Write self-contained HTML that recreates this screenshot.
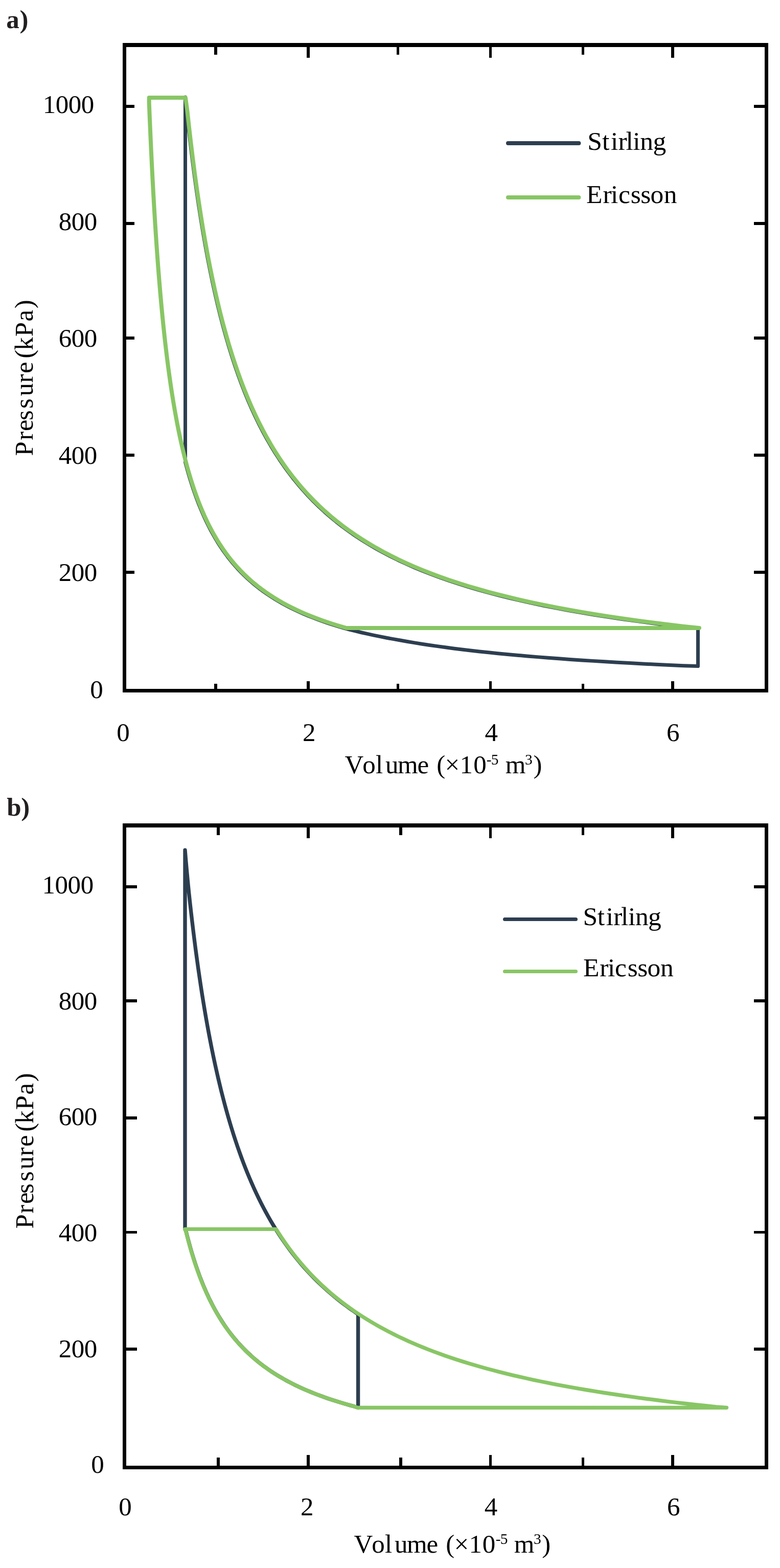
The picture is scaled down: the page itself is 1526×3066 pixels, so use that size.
<!DOCTYPE html>
<html lang="en">
<head>
<meta charset="utf-8">
<title>P–V diagrams: Stirling and Ericsson cycles</title>
<style>
html,body{margin:0;padding:0;background:#fff;}
svg{display:block;}
text{font-family:"Liberation Serif", "Times New Roman", Times, serif;white-space:pre;font-kerning:none;font-variant-ligatures:none;}
</style>
</head>
<body>
<svg width="1526" height="3066" viewBox="0 0 1526 3066">
<rect width="1526" height="3066" fill="#fff"/>
<g>
<path d="M362.50 190.00 L362.50 903.95 L365.52 915.12 L368.61 926.01 L371.78 936.64 L375.04 946.99 L378.37 957.09 L381.80 966.94 L385.31 976.54 L388.91 985.89 L392.60 995.02 L396.39 1003.92 L400.28 1012.59 L404.26 1021.05 L408.35 1029.30 L412.54 1037.34 L416.84 1045.18 L421.25 1052.82 L425.77 1060.27 L430.41 1067.54 L435.17 1074.62 L440.05 1081.53 L445.05 1088.26 L450.18 1094.83 L455.45 1101.23 L460.85 1107.48 L466.39 1113.56 L472.07 1119.50 L477.89 1125.28 L483.87 1130.92 L489.99 1136.42 L496.28 1141.78 L502.72 1147.01 L509.34 1152.11 L516.12 1157.08 L523.07 1161.93 L530.20 1166.65 L537.52 1171.26 L545.02 1175.75 L552.72 1180.13 L560.61 1184.40 L568.71 1188.56 L577.01 1192.62 L585.53 1196.58 L594.26 1200.44 L603.22 1204.20 L612.41 1207.87 L621.83 1211.45 L631.50 1214.93 L641.41 1218.33 L651.57 1221.65 L662.00 1224.88 L672.70 1228.03 L683.72 1231.06 L695.08 1233.93 L706.74 1236.73 L718.70 1239.46 L730.97 1242.11 L743.55 1244.68 L756.45 1247.19 L769.68 1249.62 L783.22 1252.03 L797.00 1254.47 L811.13 1256.86 L825.62 1259.18 L840.48 1261.45 L855.73 1263.66 L871.36 1265.82 L887.40 1267.92 L903.84 1269.97 L920.71 1271.97 L938.01 1273.92 L955.76 1275.81 L973.95 1277.67 L992.62 1279.47 L1011.76 1281.23 L1031.40 1282.95 L1051.54 1284.62 L1072.19 1286.25 L1093.38 1287.85 L1115.11 1289.40 L1137.39 1290.91 L1160.25 1292.38 L1183.69 1293.82 L1207.73 1295.22 L1232.39 1296.59 L1257.68 1297.92 L1283.62 1299.22 L1310.23 1300.49 L1337.51 1301.72 L1365.50 1302.60 L1365.50 1227.94 L1334.00 1225.58 L1303.38 1221.95 L1273.63 1218.22 L1244.71 1214.38 L1216.61 1210.43 L1189.29 1206.37 L1162.74 1202.19 L1136.94 1197.88 L1111.87 1193.46 L1087.49 1188.90 L1063.81 1184.21 L1040.79 1179.39 L1018.41 1174.43 L996.67 1169.32 L975.54 1164.07 L955.00 1158.67 L935.04 1153.10 L915.64 1147.38 L896.78 1141.49 L878.45 1135.44 L860.64 1129.20 L843.33 1122.79 L826.51 1116.19 L810.16 1109.40 L794.27 1102.42 L778.83 1095.23 L763.82 1087.83 L749.23 1080.22 L735.05 1072.39 L721.27 1064.33 L707.88 1056.05 L694.87 1047.52 L682.22 1038.74 L669.92 1029.71 L657.97 1020.42 L646.36 1010.86 L635.07 1001.02 L624.11 990.90 L613.44 980.49 L603.08 969.77 L593.01 958.75 L583.23 947.41 L573.72 935.74 L564.47 923.73 L555.49 911.37 L546.76 898.66 L538.27 885.57 L530.02 872.12 L522.01 858.27 L514.21 844.02 L506.64 829.35 L499.28 814.27 L492.13 798.75 L485.18 782.78 L478.43 766.34 L471.86 749.43 L465.48 732.04 L459.28 714.14 L453.25 695.72 L447.39 676.77 L441.70 657.27 L436.17 637.21 L430.79 616.56 L425.56 595.32 L420.48 573.47 L415.54 550.98 L410.75 527.85 L406.08 504.04 L401.55 479.54 L397.15 454.34 L392.87 428.41 L388.70 401.73 L384.66 374.27 L380.73 346.03 L376.91 316.96 L373.20 287.06 L369.59 256.29 L366.09 224.63 L362.50 190.00Z" fill="none" stroke="#2d3e50" stroke-width="7" stroke-linejoin="round" stroke-linecap="round"/>
<path d="M291.70 191.00 L362.90 191.00 L366.30 215.73 L369.79 247.73 L373.39 278.82 L377.09 309.04 L380.90 338.41 L384.82 366.94 L388.85 394.67 L393.00 421.62 L397.27 447.81 L401.67 473.26 L406.19 497.99 L410.84 522.03 L415.63 545.38 L420.56 568.08 L425.63 590.13 L430.84 611.57 L436.21 632.40 L441.74 652.64 L447.42 672.31 L453.27 691.43 L459.29 710.00 L465.49 728.06 L471.86 745.60 L478.42 762.65 L485.17 779.22 L492.12 795.32 L499.27 810.96 L506.62 826.17 L514.19 840.94 L521.98 855.30 L530.00 869.25 L538.24 882.81 L546.73 895.99 L555.47 908.80 L564.45 921.24 L573.70 933.34 L583.22 945.09 L593.01 956.51 L603.09 967.61 L613.46 978.39 L624.13 988.87 L635.11 999.06 L646.41 1008.96 L658.03 1018.57 L670.00 1027.92 L682.31 1037.01 L694.98 1045.83 L708.02 1054.41 L721.43 1062.75 L735.24 1070.85 L749.44 1078.72 L764.06 1086.37 L779.10 1093.81 L794.58 1101.03 L810.51 1108.05 L826.90 1114.88 L843.77 1121.51 L861.13 1127.95 L878.99 1134.21 L897.37 1140.30 L916.28 1146.21 L935.74 1151.96 L955.77 1157.54 L976.37 1162.97 L997.58 1168.24 L1019.40 1173.37 L1041.86 1178.35 L1064.97 1183.19 L1088.74 1187.89 L1113.21 1192.46 L1138.39 1196.90 L1164.30 1201.22 L1190.96 1205.41 L1218.40 1209.49 L1246.63 1213.45 L1275.68 1217.30 L1305.58 1221.04 L1336.34 1224.68 L1368.00 1227.90 L676.97 1227.90 L664.90 1224.39 L653.18 1220.78 L641.78 1217.06 L630.71 1213.23 L619.94 1209.30 L609.47 1205.25 L599.30 1201.09 L589.41 1196.81 L579.80 1192.40 L570.46 1187.86 L561.38 1183.20 L552.55 1178.40 L543.97 1173.46 L535.63 1168.39 L527.52 1163.16 L519.64 1157.79 L511.98 1152.26 L504.54 1146.57 L497.30 1140.71 L490.27 1134.69 L483.43 1128.50 L476.78 1122.12 L470.32 1115.57 L464.04 1108.82 L457.94 1101.88 L452.01 1094.74 L446.24 1087.40 L440.63 1079.84 L435.19 1072.07 L429.89 1064.07 L424.74 1055.84 L419.74 1047.38 L414.87 1038.67 L410.14 1029.71 L405.55 1020.49 L401.08 1011.01 L396.74 1001.25 L392.52 991.22 L388.42 980.89 L384.43 970.27 L380.55 959.34 L376.79 948.10 L373.12 936.53 L369.56 924.63 L366.10 912.39 L362.74 899.80 L359.47 886.84 L356.29 873.51 L353.20 859.80 L350.20 845.69 L347.28 831.18 L344.45 816.24 L341.69 800.88 L339.01 785.08 L336.40 768.82 L333.87 752.09 L331.41 734.88 L329.02 717.18 L326.69 698.97 L324.43 680.23 L322.23 660.95 L320.10 641.12 L318.02 620.72 L316.00 599.73 L314.04 578.13 L312.14 555.92 L310.28 533.06 L308.48 509.55 L306.73 485.36 L305.03 460.47 L303.37 434.87 L301.77 408.53 L300.20 381.43 L298.68 353.55 L297.21 324.87 L295.77 295.36 L294.37 265.01 L293.02 233.78 L291.70 201.65Z" fill="none" stroke="#88c665" stroke-width="8" stroke-linejoin="round" stroke-linecap="round"/>
<path fill="#000" fill-rule="evenodd" d="M240 84H1503V1354H240Z M247 92V1347H1496V92Z"/>
<rect x="246" y="205" width="17" height="6" fill="#000"/>
<rect x="1475" y="205" width="22" height="6" fill="#000"/>
<rect x="246" y="434" width="17" height="6" fill="#000"/>
<rect x="1475" y="434" width="22" height="6" fill="#000"/>
<rect x="246" y="658" width="17" height="6" fill="#000"/>
<rect x="1475" y="658" width="22" height="6" fill="#000"/>
<rect x="246" y="887" width="17" height="6" fill="#000"/>
<rect x="1475" y="887" width="22" height="6" fill="#000"/>
<rect x="246" y="1116" width="17" height="6" fill="#000"/>
<rect x="1475" y="1116" width="22" height="6" fill="#000"/>
<rect x="419" y="91" width="6" height="16" fill="#000"/>
<rect x="419" y="1337" width="6" height="11" fill="#000"/>
<rect x="600" y="91" width="6" height="22" fill="#000"/>
<rect x="600" y="1332" width="6" height="16" fill="#000"/>
<rect x="776" y="91" width="5" height="16" fill="#000"/>
<rect x="776" y="1337" width="5" height="11" fill="#000"/>
<rect x="957" y="91" width="5" height="22" fill="#000"/>
<rect x="957" y="1332" width="5" height="16" fill="#000"/>
<rect x="1138" y="91" width="5" height="16" fill="#000"/>
<rect x="1138" y="1337" width="5" height="11" fill="#000"/>
<rect x="1313" y="91" width="6" height="22" fill="#000"/>
<rect x="1313" y="1332" width="6" height="16" fill="#000"/>
<path d="M994 280H1132.4" stroke="#2d3e50" stroke-width="8" stroke-linecap="round"/>
<path d="M994 386H1132.4" stroke="#88c665" stroke-width="8" stroke-linecap="round"/>
<text y="55.2" font-size="51" font-weight="bold" fill="#231f20"><tspan x="12.36" letter-spacing="0.6">a)</tspan></text>
<text y="220.8" font-size="51"><tspan x="83.69" letter-spacing="-0.45">1000</tspan></text>
<text y="449.8" font-size="51"><tspan x="114.64" letter-spacing="-0.45">800</tspan></text>
<text y="677.5" font-size="51"><tspan x="114.64" letter-spacing="-0.45">600</tspan></text>
<text y="906.9" font-size="51"><tspan x="114.64" letter-spacing="-0.45">400</tspan></text>
<text y="1135.8" font-size="51"><tspan x="114.64" letter-spacing="-0.45">200</tspan></text>
<text y="1364.6" font-size="51"><tspan x="176.35">0</tspan></text>
<text y="1449.3" font-size="51"><tspan x="228.2">0</tspan></text>
<text y="1449.3" font-size="51"><tspan x="592.09">2</tspan></text>
<text y="1449.3" font-size="51"><tspan x="948.5">4</tspan></text>
<text y="1449.3" font-size="51"><tspan x="1303.91">6</tspan></text>
<text y="1512.3" font-size="51"><tspan x="674.48 709.15 734.92 754.05 778.03 816.57">Volume</tspan><tspan x="841.56 854.31 870.59 899.44 926.35"> (×10</tspan><tspan x="951.67 960.74" dy="-17.5" font-size="29.5">-5</tspan><tspan x="976.08 988.83" dy="17.5"> m</tspan><tspan x="1027.1" dy="-17.5" font-size="29.5">3</tspan><tspan x="1043.41" dy="17.5">)</tspan></text>
<text y="891.05" font-size="51" transform="rotate(-90 64.1 891.05)"><tspan x="63.75 94.37 112.22 133.1 156.2 180.7 206.72 225.12 241.71 254.46 270.31 296.85 326.68 351.96">Pressure (kPa)</tspan></text>
<text y="293" font-size="51.5"><tspan x="1149.25 1177.95 1194.9 1209.44 1224.45 1238.2 1252.22 1277.41">Stirling</tspan></text>
<text y="396.7" font-size="51.5"><tspan x="1146.91 1179.44 1195.1 1209.98 1233.85 1253.25 1272.53 1298.82">Ericsson</tspan></text>
</g>
<g>
<path d="M362.00 1662.30 L363.74 1683.52 L365.62 1704.37 L367.54 1724.86 L369.52 1744.97 L371.66 1764.64 L373.83 1783.96 L376.05 1802.94 L378.30 1821.59 L380.59 1839.91 L382.93 1857.91 L385.31 1875.60 L387.72 1892.98 L390.19 1910.05 L392.69 1926.82 L395.24 1943.31 L397.84 1959.50 L400.48 1975.41 L403.17 1991.04 L405.90 2006.39 L408.69 2021.48 L411.52 2036.31 L414.41 2050.87 L417.35 2065.18 L420.33 2079.24 L423.38 2093.05 L426.47 2106.63 L429.63 2119.96 L432.83 2133.06 L436.10 2145.93 L439.42 2158.58 L442.80 2171.00 L446.25 2183.21 L449.75 2195.20 L453.32 2206.99 L456.95 2218.56 L460.64 2229.94 L464.40 2241.11 L468.23 2252.09 L472.13 2262.88 L476.09 2273.48 L480.13 2283.90 L484.23 2294.13 L488.42 2304.18 L492.67 2314.06 L497.00 2323.76 L501.41 2333.29 L505.90 2342.66 L510.46 2351.86 L515.11 2360.90 L519.84 2369.79 L524.66 2378.51 L529.56 2387.09 L534.55 2395.51 L539.62 2403.79 L544.79 2411.93 L550.05 2419.92 L555.40 2427.77 L560.85 2435.48 L566.40 2443.06 L572.04 2450.50 L577.79 2457.82 L583.64 2465.01 L589.59 2472.07 L595.64 2479.00 L601.81 2485.82 L608.09 2492.52 L614.47 2499.10 L620.97 2505.56 L627.59 2511.91 L634.33 2518.15 L641.18 2524.29 L648.16 2530.31 L655.26 2536.23 L662.48 2542.04 L669.84 2547.76 L677.33 2553.37 L684.95 2558.88 L692.71 2564.30 L700.60 2570.01 L700.60 2752.50 L692.72 2749.94 L684.98 2747.83 L677.38 2745.69 L669.90 2743.51 L662.56 2741.29 L655.35 2739.03 L648.26 2736.73 L641.30 2734.39 L634.46 2732.01 L627.74 2729.58 L621.13 2727.11 L614.65 2724.60 L608.27 2722.04 L602.01 2719.44 L595.85 2716.79 L589.81 2714.10 L583.87 2711.35 L578.03 2708.56 L572.30 2705.72 L566.67 2702.82 L561.13 2699.88 L555.69 2696.88 L550.35 2693.83 L545.10 2690.73 L539.94 2687.57 L534.88 2684.35 L529.90 2681.08 L525.01 2677.74 L520.20 2674.35 L515.48 2670.90 L510.84 2667.39 L506.28 2663.81 L501.81 2660.17 L497.41 2656.47 L493.08 2652.70 L488.84 2648.86 L484.66 2644.95 L480.56 2640.98 L476.54 2636.93 L472.58 2632.81 L468.69 2628.62 L464.87 2624.35 L461.12 2620.01 L457.43 2615.59 L453.81 2611.09 L450.25 2606.51 L446.75 2601.85 L443.31 2597.11 L439.94 2592.28 L436.62 2587.37 L433.36 2582.37 L430.16 2577.28 L427.01 2572.10 L423.92 2566.82 L420.89 2561.45 L417.90 2555.99 L414.97 2550.43 L412.09 2544.77 L409.26 2539.01 L406.48 2533.15 L403.75 2527.18 L401.07 2521.11 L398.43 2514.93 L395.84 2508.64 L393.29 2502.23 L390.79 2495.71 L388.34 2489.08 L385.92 2482.33 L383.55 2475.46 L381.22 2468.46 L378.93 2461.34 L376.68 2454.10 L374.47 2446.72 L372.30 2439.22 L370.17 2431.57 L368.07 2423.80 L366.01 2415.88 L363.99 2407.83 L362.00 2403.40Z" fill="none" stroke="#2d3e50" stroke-width="7.4" stroke-linejoin="round" stroke-linecap="round"/>
<path d="M540.21 2403.40 L545.38 2411.54 L550.64 2419.53 L556.00 2427.38 L561.45 2435.10 L567.00 2442.68 L572.65 2450.13 L578.40 2457.45 L584.25 2464.64 L590.21 2471.70 L596.27 2478.64 L602.44 2485.46 L608.72 2492.16 L615.11 2498.74 L621.62 2505.20 L628.24 2511.56 L634.98 2517.80 L641.84 2523.93 L648.82 2529.96 L655.93 2535.88 L663.16 2541.69 L670.53 2547.41 L678.02 2553.02 L685.65 2558.54 L693.41 2563.96 L701.31 2569.28 L709.35 2574.51 L717.54 2579.65 L725.87 2584.70 L734.35 2589.66 L742.98 2594.54 L751.77 2599.33 L760.71 2604.03 L769.81 2608.65 L779.07 2613.20 L788.50 2617.66 L798.10 2622.04 L807.87 2626.35 L817.81 2630.58 L827.93 2634.74 L838.23 2638.82 L848.71 2642.84 L859.38 2646.78 L870.24 2650.65 L881.29 2654.46 L892.54 2658.20 L903.99 2661.87 L915.65 2665.48 L927.51 2669.03 L939.58 2672.51 L951.87 2675.94 L964.38 2679.30 L977.11 2682.60 L990.07 2685.85 L1003.26 2689.04 L1016.69 2692.17 L1030.35 2695.25 L1044.26 2698.28 L1058.41 2701.25 L1072.82 2704.17 L1087.48 2707.04 L1102.41 2709.86 L1117.60 2712.63 L1133.06 2715.35 L1148.80 2718.02 L1164.82 2720.65 L1181.12 2723.23 L1197.72 2725.76 L1214.61 2728.26 L1231.80 2730.70 L1249.30 2733.11 L1267.11 2735.47 L1285.23 2737.79 L1303.68 2740.07 L1322.46 2742.31 L1341.58 2744.51 L1361.03 2746.67 L1380.83 2748.80 L1400.99 2750.89 L1421.50 2752.50 L699.50 2752.50 L692.72 2749.87 L684.97 2747.76 L677.36 2745.62 L669.89 2743.44 L662.54 2741.23 L655.33 2738.97 L648.23 2736.67 L641.27 2734.33 L634.42 2731.95 L627.70 2729.53 L621.09 2727.06 L614.60 2724.55 L608.22 2722.00 L601.96 2719.40 L595.80 2716.75 L589.75 2714.06 L583.81 2711.32 L577.97 2708.52 L572.23 2705.68 L566.60 2702.79 L561.06 2699.85 L555.62 2696.86 L550.27 2693.81 L545.02 2690.71 L539.86 2687.55 L534.79 2684.34 L529.81 2681.07 L524.91 2677.74 L520.10 2674.35 L515.38 2670.90 L510.74 2667.39 L506.18 2663.82 L501.70 2660.18 L497.29 2656.48 L492.97 2652.71 L488.72 2648.88 L484.54 2644.97 L480.44 2641.00 L476.41 2636.96 L472.45 2632.85 L468.56 2628.66 L464.74 2624.40 L460.98 2620.06 L457.29 2615.64 L453.67 2611.15 L450.11 2606.57 L446.61 2601.92 L443.17 2597.18 L439.79 2592.36 L436.47 2587.45 L433.21 2582.45 L430.01 2577.36 L426.86 2572.19 L423.76 2566.92 L420.73 2561.56 L417.74 2556.10 L414.81 2550.55 L411.93 2544.89 L409.09 2539.14 L406.31 2533.28 L403.58 2527.32 L400.89 2521.25 L398.25 2515.08 L395.66 2508.79 L393.12 2502.40 L390.61 2495.88 L388.15 2489.26 L385.74 2482.51 L383.37 2475.65 L381.03 2468.66 L378.74 2461.55 L376.49 2454.31 L374.28 2446.94 L372.11 2439.44 L369.97 2431.81 L367.87 2424.04 L365.81 2416.14 L363.79 2408.09 L361.80 2403.40Z" fill="none" stroke="#88c665" stroke-width="7.4" stroke-linejoin="round" stroke-linecap="round"/>
<path fill="#000" fill-rule="evenodd" d="M240 1610H1503V2873H240Z M247 1618V2866H1496V1618Z"/>
<rect x="246" y="1731" width="22" height="6" fill="#000"/>
<rect x="1475" y="1731" width="22" height="6" fill="#000"/>
<rect x="246" y="1954" width="22" height="6" fill="#000"/>
<rect x="1475" y="1954" width="22" height="6" fill="#000"/>
<rect x="246" y="2183" width="22" height="6" fill="#000"/>
<rect x="1475" y="2183" width="22" height="6" fill="#000"/>
<rect x="246" y="2407" width="22" height="5" fill="#000"/>
<rect x="1475" y="2407" width="22" height="5" fill="#000"/>
<rect x="246" y="2635" width="22" height="6" fill="#000"/>
<rect x="1475" y="2635" width="22" height="6" fill="#000"/>
<rect x="424" y="1617" width="6" height="16" fill="#000"/>
<rect x="424" y="2850" width="6" height="17" fill="#000"/>
<rect x="600" y="1617" width="6" height="22" fill="#000"/>
<rect x="600" y="2845" width="6" height="22" fill="#000"/>
<rect x="781" y="1617" width="6" height="16" fill="#000"/>
<rect x="781" y="2850" width="6" height="17" fill="#000"/>
<rect x="957" y="1617" width="5" height="22" fill="#000"/>
<rect x="957" y="2845" width="5" height="22" fill="#000"/>
<rect x="1138" y="1617" width="5" height="16" fill="#000"/>
<rect x="1138" y="2850" width="5" height="17" fill="#000"/>
<rect x="1313" y="1617" width="6" height="22" fill="#000"/>
<rect x="1313" y="2845" width="6" height="22" fill="#000"/>
<path d="M987.5 1797.5H1126.5" stroke="#2d3e50" stroke-width="7" stroke-linecap="round"/>
<path d="M987.5 1899.5H1126.5" stroke="#88c665" stroke-width="7" stroke-linecap="round"/>
<text y="1595.2" font-size="51" font-weight="bold" fill="#231f20"><tspan x="13.35" letter-spacing="-0.46">b)</tspan></text>
<text y="1746.6" font-size="51"><tspan x="82.49" letter-spacing="-0.45">1000</tspan></text>
<text y="1973.8" font-size="51"><tspan x="114.64" letter-spacing="-0.45">800</tspan></text>
<text y="2199.8" font-size="51"><tspan x="114.64" letter-spacing="-0.45">600</tspan></text>
<text y="2426.6" font-size="51"><tspan x="114.64" letter-spacing="-0.45">400</tspan></text>
<text y="2653.8" font-size="51"><tspan x="114.64" letter-spacing="-0.45">200</tspan></text>
<text y="2879.8" font-size="51"><tspan x="178.3">0</tspan></text>
<text y="2963.3" font-size="51"><tspan x="232.2">0</tspan></text>
<text y="2963.3" font-size="51"><tspan x="588.09">2</tspan></text>
<text y="2963.3" font-size="51"><tspan x="947.8">4</tspan></text>
<text y="2963.3" font-size="51"><tspan x="1304.91">6</tspan></text>
<text y="3036.3" font-size="51"><tspan x="692.48 727.15 752.92 772.05 796.03 834.57">Volume</tspan><tspan x="859.56 872.31 888.59 917.44 943.75"> (×10</tspan><tspan x="969.67 978.74" dy="-17.5" font-size="29.5">-5</tspan><tspan x="992.88 1005.63" dy="17.5"> m</tspan><tspan x="1043.9" dy="-17.5" font-size="29.5">3</tspan><tspan x="1060.21" dy="17.5">)</tspan></text>
<text y="2403.05" font-size="51" transform="rotate(-90 65.1 2403.05)"><tspan x="65.75 95.37 114.22 134.1 158.2 181.7 207.72 226.12 242.71 255.46 271.31 297.85 327.68 352.96">Pressure (kPa)</tspan></text>
<text y="1809.3" font-size="51.5"><tspan x="1140.51 1168.65 1185.75 1200.31 1215.05 1228.88 1242.9 1268.07">Stirling</tspan></text>
<text y="1908.7" font-size="51.5"><tspan x="1140.91 1173.24 1188.9 1202.98 1227.85 1247.25 1266.53 1292.02">Ericsson</tspan></text>
</g>
</svg>
</body>
</html>
